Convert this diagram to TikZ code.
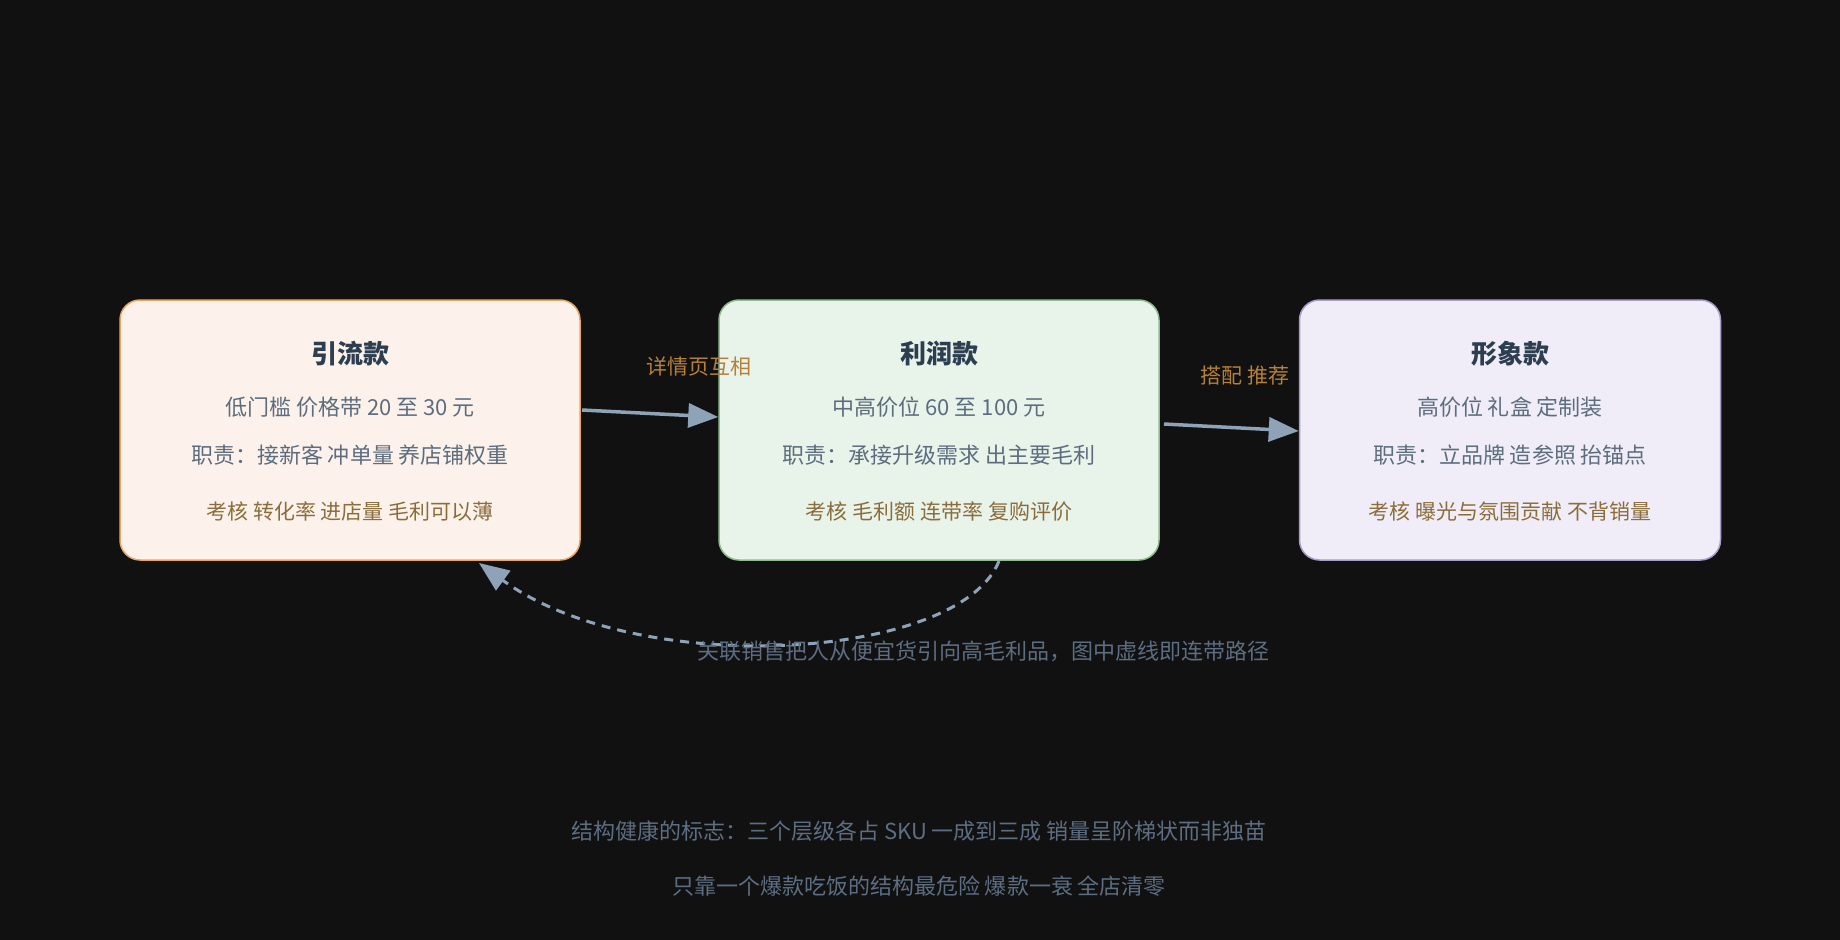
\documentclass[tikz,border=0pt]{standalone}
\usepackage{fontspec}
\setmainfont{Noto Sans CJK SC}
\usetikzlibrary{arrows.meta}
\definecolor{bg}{HTML}{111111}
\definecolor{tcol}{HTML}{2C3E50}
\definecolor{gcol}{HTML}{5D6D7E}
\definecolor{bcol}{HTML}{8A6D3B}
\definecolor{acol}{HTML}{8FA3B8}
\definecolor{lcol}{HTML}{B5803A}
\definecolor{ccol}{HTML}{5D6D82}
\tikzset{
 box/.style={draw, line width=1.5pt, rounded corners=20pt, minimum width=#1, minimum height=260pt},
 ttl/.style={text=tcol, font=\fontsize{26}{30}\selectfont\bfseries},
 ln/.style={text=gcol, font=\fontsize{22}{26}\selectfont},
 kh/.style={text=bcol, font=\fontsize{21}{25}\selectfont},
 lab/.style={text=lcol, font=\fontsize{21}{25}\selectfont},
 captxt/.style={text=ccol, font=\fontsize{22}{26}\selectfont},
 arr/.style={draw=acol, line width=3.5pt, -{Triangle[length=30pt,width=24pt]}},
}
\begin{document}
\begin{tikzpicture}[x=1pt,y=-1pt]
\fill[bg] (0,0) rectangle (1840,940);
\useasboundingbox (0,0) rectangle (1840,940);
\node[box=460pt, draw=orange!50!brown!70!white, fill={rgb,255:red,253;green,242;blue,235}] (b1) at (350,430) {};
\node[box=440pt, draw={rgb,255:red,143;green,188;blue,143}, fill={rgb,255:red,232;green,243;blue,234}] (b2) at (939,430) {};
\node[box=421pt, draw={rgb,255:red,168;green,156;blue,200}, fill={rgb,255:red,240;green,237;blue,249}] (b3) at (1510,430) {};
\node[ttl] (t1) at (350,354) {引流款};
\node[ln] (a1) at (350,407) {低门槛 价格带 20 至 30 元};
\node[ln] (c1) at (350,455) {职责：接新客 冲单量 养店铺权重};
\node[kh] (k1) at (350,512) {考核 转化率 进店量 毛利可以薄};
\node[ttl] (t2) at (939,354) {利润款};
\node[ln] (a2) at (939,407) {中高价位 60 至 100 元};
\node[ln] (c2) at (939,455) {职责：承接升级需求 出主要毛利};
\node[kh] (k2) at (939,512) {考核 毛利额 连带率 复购评价};
\node[ttl] (t3) at (1510,354) {形象款};
\node[ln] (a3) at (1510,407) {高价位 礼盒 定制装};
\node[ln] (c3) at (1510,455) {职责：立品牌 造参照 抬锚点};
\node[kh] (k3) at (1510,512) {考核 曝光与氛围贡献 不背销量};
\coordinate (p1) at (582,410);
\coordinate (p2) at (1164,424);
\draw[arr] (p1) -- (b2.west |- 0,417);
\draw[arr] (p2) -- (b3.west |- 0,431);
\node[lab] (l1) at (699,367) {详情页互相};
\node[lab] (l2) at (1245,376) {搭配 推荐};
\coordinate (d1) at (999,561);
\coordinate (d2) at (479,563);
\draw[acol, line width=3pt, dash pattern=on 9pt off 7pt, -{Triangle[length=30pt,width=24pt]}] (d1) .. controls (960,660) and (640,680) .. (d2);
\node[captxt] (cp) at (983,651) {关联销售把人从便宜货引向高毛利品，图中虚线即连带路径};
\node[captxt] (s1) at (919,831) {结构健康的标志：三个层级各占 SKU 一成到三成 销量呈阶梯状而非独苗};
\node[captxt] (s2) at (919,886) {只靠一个爆款吃饭的结构最危险 爆款一衰 全店清零};
\end{tikzpicture}
\end{document}
